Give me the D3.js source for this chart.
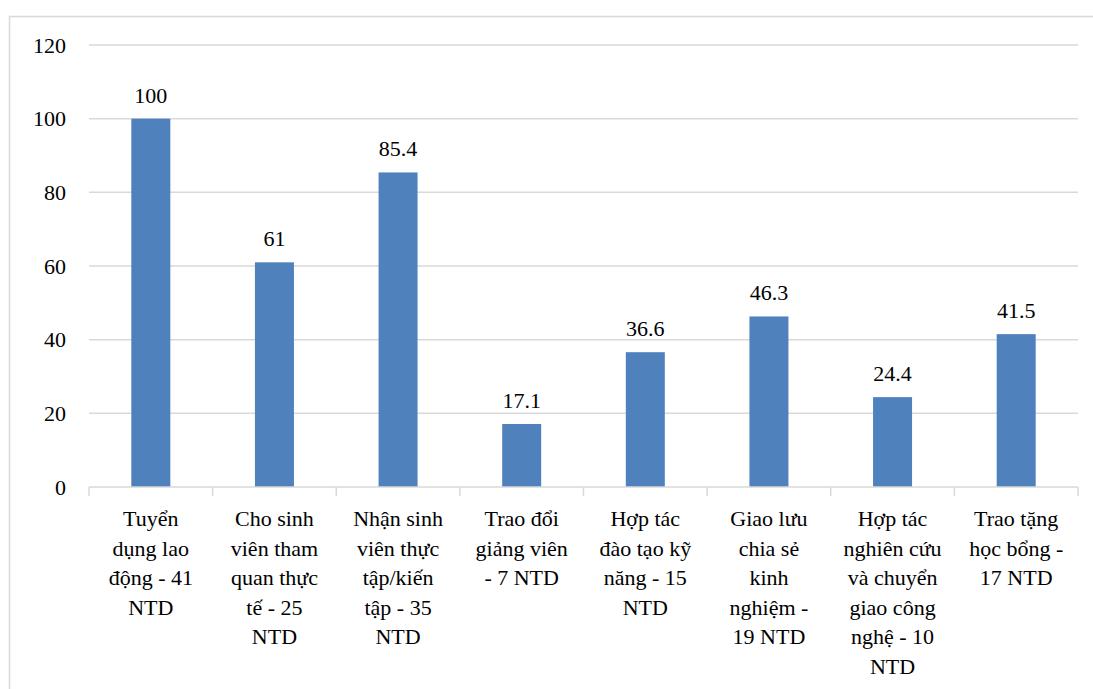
<!DOCTYPE html>
<html>
<head>
<meta charset="utf-8">
<script src="https://cdn.jsdelivr.net/npm/d3@7"></script>
</head>
<body style="margin:0">
<svg id="chart" width="1093" height="689" style="display:block; font-family: 'Times New Roman', 'Liberation Serif', Tinos, serif;"></svg>
<script>
// Hoạt động hợp tác với nhà tuyển dụng (%)
const categoryLines = [
  ["Tuyển", "dụng lao", "động - 41", "NTD"],
  ["Cho sinh", "viên tham", "quan thực", "tế - 25", "NTD"],
  ["Nhận sinh", "viên thực", "tập/kiến", "tập - 35", "NTD"],
  ["Trao đổi", "giảng viên", "- 7 NTD"],
  ["Hợp tác", "đào tạo kỹ", "năng - 15", "NTD"],
  ["Giao lưu", "chia sẻ", "kinh", "nghiệm -", "19 NTD"],
  ["Hợp tác", "nghiên cứu", "và chuyển", "giao công", "nghệ - 10", "NTD"],
  ["Trao tặng", "học bổng -", "17 NTD"]
];
const values = [100, 61, 85.4, 17.1, 36.6, 46.3, 24.4, 41.5];
const valueLabels = ["100", "61", "85.4", "17.1", "36.6", "46.3", "24.4", "41.5"];
const yTicks = [0, 20, 40, 60, 80, 100, 120];

const svg = d3.select("#chart");
const W = 1093, H = 689;
const plot = { left: 89, right: 1078, top: 45, bottom: 487 };

// shared text styling
function labelText(sel) {
  sel.style("font-family", d => "\"Times New Roman\"")
     .attr("font-size", 22);
}

// outer frame
svg.append("rect")
  .attr("x", 9.5).attr("y", 16.5)
  .attr("width", W + 10).attr("height", H + 10)
  .attr("fill", "none").attr("stroke", "#d9d9d9").attr("stroke-width", 1.5);

const idx = d3.range(values.length);
const x = d3.scaleBand().domain(idx).range([plot.left, plot.right]).paddingInner(0).paddingOuter(0);
const y = d3.scaleLinear().domain([0, 120]).range([plot.bottom, plot.top]);

// horizontal gridlines
svg.append("g")
  .selectAll("line")
  .data(yTicks.filter(d => d > 0))
  .join("line")
  .attr("x1", plot.left).attr("x2", plot.right)
  .attr("y1", d => y(d)).attr("y2", d => y(d))
  .attr("stroke", "#d9d9d9").attr("stroke-width", 1.5);

// y tick labels
svg.append("g")
  .selectAll("text")
  .data(yTicks)
  .join("text")
  .call(labelText)
  .attr("x", 66).attr("y", d => y(d) + 7.5)
  .attr("text-anchor", "end")
  .text(d => d);

// bars
const barW = 39;
svg.append("g")
  .selectAll("rect")
  .data(values)
  .join("rect")
  .attr("x", (d, i) => x(i) + x.bandwidth() / 2 - barW / 2)
  .attr("y", d => y(d))
  .attr("width", barW)
  .attr("height", d => y(0) - y(d))
  .attr("fill", "#4f81bd");

// x axis line and category ticks
svg.append("line")
  .attr("x1", plot.left).attr("x2", plot.right)
  .attr("y1", plot.bottom).attr("y2", plot.bottom)
  .attr("stroke", "#d9d9d9").attr("stroke-width", 1.5);
svg.append("g")
  .selectAll("line")
  .data(d3.range(values.length + 1))
  .join("line")
  .attr("x1", i => i < values.length ? x(i) : plot.right)
  .attr("x2", i => i < values.length ? x(i) : plot.right)
  .attr("y1", plot.bottom).attr("y2", plot.bottom + 9)
  .attr("stroke", "#d9d9d9").attr("stroke-width", 1.5);

// value labels
svg.append("g")
  .selectAll("text")
  .data(values)
  .join("text")
  .call(labelText)
  .attr("x", (d, i) => x(i) + x.bandwidth() / 2)
  .attr("y", d => y(d) - 16)
  .attr("text-anchor", "middle")
  .text((d, i) => valueLabels[i]);

// category labels, one line of text per row
categoryLines.forEach((lines, i) => {
  svg.append("g")
    .selectAll("text")
    .data(lines)
    .join("text")
    .call(labelText)
    .attr("x", x(i) + x.bandwidth() / 2)
    .attr("y", (d, j) => 526 + j * 29.5)
    .attr("text-anchor", "middle")
    .text(d => d);
});
</script>
</body>
</html>
